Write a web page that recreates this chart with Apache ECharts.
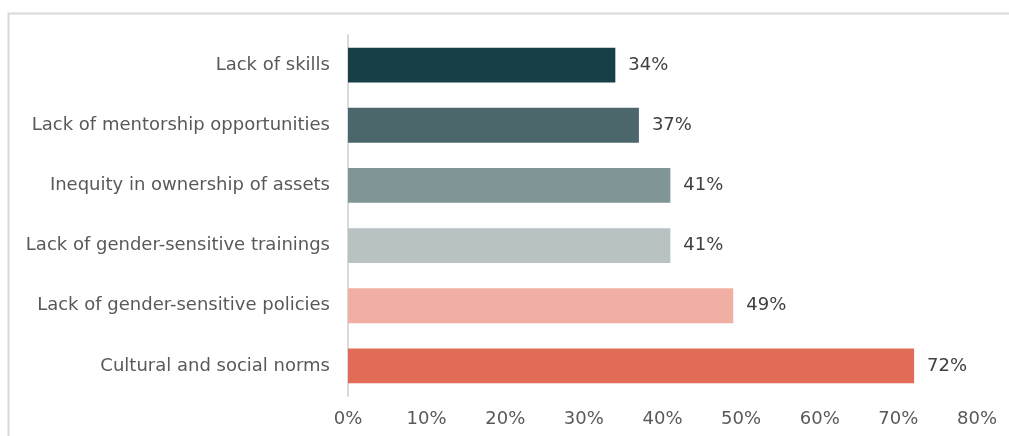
<!DOCTYPE html>
<html>
<head>
<meta charset="utf-8">
<script src="https://cdn.jsdelivr.net/npm/echarts@6/dist/echarts.min.js"></script>
<style>
html,body{margin:0;padding:0;background:#fff;}
#chart{width:1009px;height:436px;}
</style>
</head>
<body>
<div id="chart"></div>
<script>
const categories = [
  "Lack of skills",
  "Lack of mentorship opportunities",
  "Inequity in ownership of assets",
  "Lack of gender-sensitive trainings",
  "Lack of gender-sensitive policies",
  "Cultural and social norms"
];
const values = [34, 37, 41, 41, 49, 72];
const barColors = ["#173F47", "#4B676C", "#809596", "#B9C2C3", "#F0AFA2", "#E06B56"];
const axisMin = 0, axisMax = 80, axisStep = 10;

const chart = echarts.init(document.getElementById('chart'), null, {renderer: 'canvas'});
const font = "'DejaVu Sans', Verdana, sans-serif";
chart.setOption({
  animation: false,
  graphic: [{
    type: 'rect', z: -10,
    shape: {x: 8.5, y: 13.5, width: 1200, height: 600},
    style: {fill: 'none', stroke: '#d9d9d9', lineWidth: 2}
  }],
  grid: {left: 348, right: 32, top: 35, bottom: 40, containLabel: false},
  xAxis: {
    type: 'value', min: axisMin, max: axisMax, interval: axisStep,
    axisLine: {show: false}, axisTick: {show: false}, splitLine: {show: false},
    axisLabel: {formatter: v => v + '%', color: '#595959', fontSize: 18, fontFamily: font, margin: 14}
  },
  yAxis: {
    type: 'category', data: categories, inverse: true,
    axisLine: {show: true, lineStyle: {color: '#d9d9d9', width: 2}},
    axisTick: {show: false},
    axisLabel: {color: '#595959', fontSize: 18, fontFamily: font, margin: 18}
  },
  series: [{
    type: 'bar',
    data: values.map((v, i) => ({value: v, itemStyle: {color: barColors[i]}})),
    barWidth: '58%',
    label: {show: true, position: 'right', distance: 13, formatter: p => p.value + '%',
            color: '#404040', fontSize: 18, fontFamily: font}
  }]
});
</script>
</body>
</html>
